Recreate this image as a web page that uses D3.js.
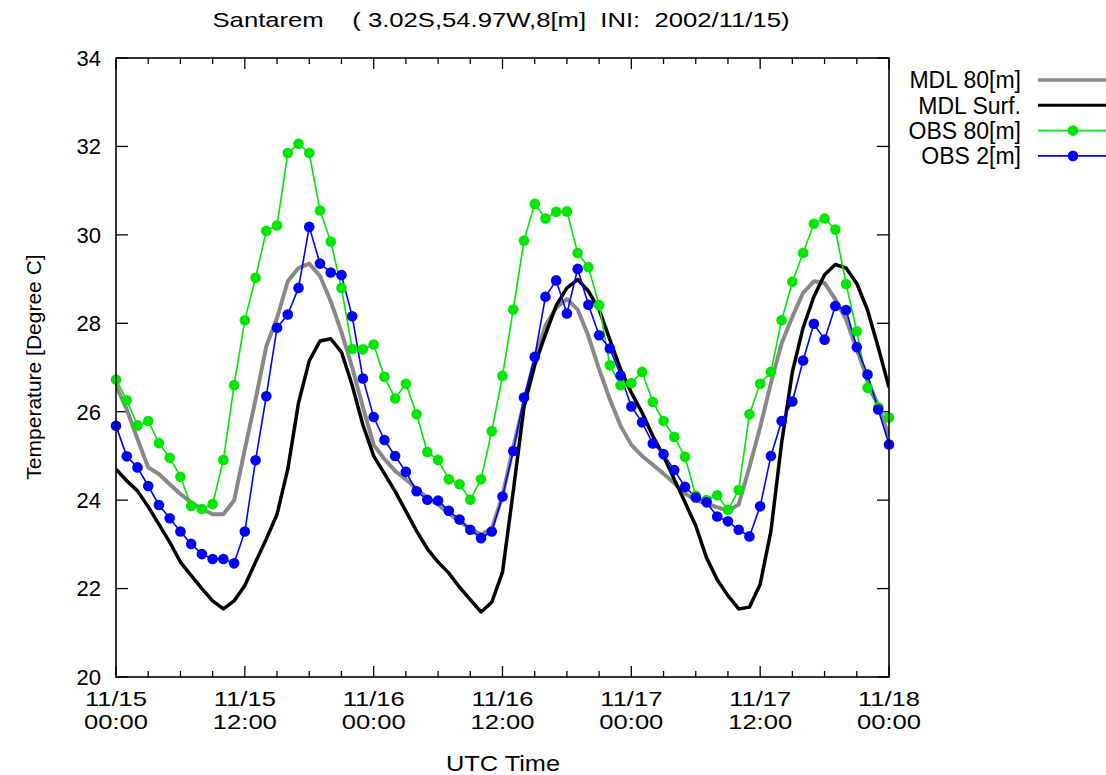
<!DOCTYPE html>
<html>
<head>
<meta charset="utf-8">
<script src="https://cdn.jsdelivr.net/npm/d3@7"></script>
<style>
  html, body { margin: 0; padding: 0; background: #fff; }
  svg text { font-family: 'Liberation Sans', Arial, sans-serif; fill: #000; }
</style>
</head>
<body>
<div id="chart"></div>
<script>
// hourly values, 2002/11/15 00Z .. 2002/11/18 00Z
const mdl80 = [26.6, 26.05, 25.38, 24.74, 24.59, 24.36, 24.14, 23.95, 23.8, 23.68, 23.68, 23.99, 25.15, 26.28, 27.48, 28.12, 28.95, 29.25, 29.35, 29.07, 28.5, 27.8, 27.0, 26.1, 25.25,
  24.93, 24.66, 24.47, 24.25, 24.05, 23.9, 23.7, 23.52, 23.35, 23.22, 23.35, 24.1, 25.2, 26.2, 27.2, 27.95, 28.35, 28.55, 28.31, 27.71, 26.96, 26.28, 25.68, 25.25,
  25.0, 24.8, 24.6, 24.38, 24.15, 24.0, 23.92, 23.84, 23.76, 23.9, 24.75, 25.65, 26.65, 27.55, 28.15, 28.69, 28.95, 28.91, 28.54, 28.09, 27.41, 26.73, 26.13, 25.45];

const mdlSurf = [24.7, 24.44, 24.21, 23.85, 23.45, 23.05, 22.6, 22.3, 22.0, 21.72, 21.54, 21.72, 22.07, 22.6, 23.12, 23.68, 24.7, 26.2, 27.15, 27.6, 27.65, 27.35, 26.6, 25.7, 25.0,
  24.6, 24.2, 23.75, 23.3, 22.9, 22.6, 22.35, 22.03, 21.75, 21.47, 21.69, 22.37, 24.2, 26.1, 27.05, 27.75, 28.4, 28.8, 28.99, 28.73, 28.31, 27.63, 26.96, 26.43,
  25.98, 25.45, 25.0, 24.47, 23.95, 23.42, 22.7, 22.2, 21.84, 21.54, 21.58, 22.1, 23.3, 25.3, 26.9, 27.9, 28.6, 29.1, 29.33, 29.25, 28.9, 28.3, 27.45, 26.55];

const obs80 = [26.73, 26.26, 25.69, 25.79, 25.29, 24.96, 24.53, 23.87, 23.8, 23.91, 24.91, 26.6, 28.07, 29.03, 30.09, 30.21, 31.85, 32.06, 31.85, 30.55, 29.85, 28.8, 27.42, 27.41, 27.52,
  26.79, 26.3, 26.63, 25.94, 25.09, 24.91, 24.47, 24.36, 24.01, 24.47, 25.56, 26.81, 28.31, 29.87, 30.7, 30.37, 30.52, 30.53, 29.59, 29.27, 28.41, 27.05, 26.6, 26.65,
  26.9, 26.22, 25.79, 25.43, 24.98, 24.1, 24.0, 24.11, 23.78, 24.23, 25.94, 26.63, 26.9, 28.07, 28.94, 29.59, 30.25, 30.37, 30.12, 28.89, 27.82, 26.54, 26.1, 25.87];

const obs2 = [25.68, 24.99, 24.74, 24.32, 23.89, 23.59, 23.29, 23.01, 22.78, 22.67, 22.67, 22.57, 23.29, 24.9, 26.35, 27.9, 28.2, 28.8, 30.18, 29.35, 29.15, 29.09, 28.16, 26.75, 25.88,
  25.36, 25.0, 24.64, 24.2, 24.01, 23.99, 23.76, 23.56, 23.33, 23.14, 23.29, 24.08, 25.11, 26.32, 27.24, 28.6, 28.97, 28.22, 29.23, 28.42, 27.73, 27.43, 26.82, 26.12,
  25.76, 25.28, 25.04, 24.68, 24.3, 24.06, 23.95, 23.63, 23.52, 23.33, 23.18, 23.86, 25.0, 25.79, 26.23, 27.16, 27.99, 27.63, 28.39, 28.3, 27.46, 26.84, 26.05, 25.26];

const yTicks = [20, 22, 24, 26, 28, 30, 32, 34];
const xTickLabels = [['11/15', '00:00'], ['11/15', '12:00'], ['11/16', '00:00'], ['11/16', '12:00'],
  ['11/17', '00:00'], ['11/17', '12:00'], ['11/18', '00:00']];

const series = [
  { name: 'MDL 80[m]', values: mdl80, color: '#888888', width: 4, dots: false },
  { name: 'MDL Surf.', values: mdlSurf, color: '#000000', width: 3.5, dots: false },
  { name: 'OBS 80[m]', values: obs80, color: '#00e600', width: 1.6, dots: true },
  { name: 'OBS 2[m]', values: obs2, color: '#0000ff', width: 1.6, dots: true }
];

const width = 1106, height = 775;
const margin = { top: 58, right: 217, bottom: 98, left: 116 };
const innerW = width - margin.left - margin.right;
const innerH = height - margin.top - margin.bottom;

const start = Date.UTC(2002, 10, 15, 0);
const hour = 3600 * 1000;
const timeOf = i => new Date(start + i * hour);

const x = d3.scaleUtc().domain([timeOf(0), timeOf(72)]).range([0, innerW]);
const y = d3.scaleLinear().domain([20, 34]).range([innerH, 0]);

const svg = d3.select('#chart').append('svg')
  .attr('width', width).attr('height', height);

const g = svg.append('g').attr('transform', `translate(${margin.left},${margin.top})`);

// title
svg.append('text')
  .attr('x', 501).attr('y', 27)
  .attr('text-anchor', 'middle')
  .attr('font-size', 21)
  .attr('textLength', 577).attr('lengthAdjust', 'spacingAndGlyphs')
  .attr('xml:space', 'preserve')
  .text('Santarem    ( 3.02S,54.97W,8[m]  INI:  2002/11/15)');

// ticks: minor every 3h, major every 12h, drawn inward on top & bottom
const minor = d3.utcHour.every(3).range(timeOf(0), timeOf(72.01));
const major = d3.utcHour.every(12).range(timeOf(0), timeOf(72.01));

const tickG = g.append('g').attr('stroke', '#000').attr('stroke-width', 1.3);
minor.forEach(t => {
  const big = t.getUTCHours() % 12 === 0;
  const len = big ? 11 : 6;
  tickG.append('line').attr('x1', x(t)).attr('x2', x(t)).attr('y1', innerH).attr('y2', innerH - len);
  tickG.append('line').attr('x1', x(t)).attr('x2', x(t)).attr('y1', 0).attr('y2', len);
});
yTicks.forEach(v => {
  tickG.append('line').attr('x1', 0).attr('x2', 12).attr('y1', y(v)).attr('y2', y(v));
  tickG.append('line').attr('x1', innerW).attr('x2', innerW - 12).attr('y1', y(v)).attr('y2', y(v));
});

// y tick labels
g.append('g').selectAll('text').data(yTicks).join('text')
  .attr('x', -15).attr('y', d => y(d)).attr('dy', '0.36em')
  .attr('text-anchor', 'end').attr('font-size', 22)
  .text(d => d);

// x tick labels (two lines)
const xl = g.append('g').selectAll('text').data(major).join('text')
  .attr('text-anchor', 'middle').attr('font-size', 21)
  .attr('transform', d => `translate(${x(d)},${innerH + 29})`);
xl.append('tspan').attr('x', 0).attr('y', 0)
  .attr('textLength', 62).attr('lengthAdjust', 'spacingAndGlyphs')
  .text((d, i) => xTickLabels[i][0]);
xl.append('tspan').attr('x', 0).attr('y', 23)
  .attr('textLength', 64).attr('lengthAdjust', 'spacingAndGlyphs')
  .text((d, i) => xTickLabels[i][1]);

// axis titles
svg.append('text')
  .attr('x', 503).attr('y', 771)
  .attr('text-anchor', 'middle').attr('font-size', 22)
  .attr('textLength', 114).attr('lengthAdjust', 'spacingAndGlyphs')
  .text('UTC Time');

svg.append('text')
  .attr('transform', 'translate(41,367) rotate(-90)')
  .attr('text-anchor', 'middle').attr('font-size', 21)
  .text('Temperature [Degree C]');

// lines
const line = d3.line().x((d, i) => x(timeOf(i))).y(d => y(d));

svg.append('clipPath').attr('id', 'plot-clip')
  .append('rect').attr('width', innerW).attr('height', innerH);

const plot = g.append('g').attr('clip-path', 'url(#plot-clip)');

series.forEach(s => {
  plot.append('path')
    .datum(s.values)
    .attr('fill', 'none')
    .attr('stroke', s.color)
    .attr('stroke-width', s.width)
    .attr('stroke-linejoin', 'round')
    .attr('d', line);

  if (s.dots) {
    g.append('g').selectAll('circle').data(s.values).join('circle')
      .attr('cx', (d, i) => x(timeOf(i)))
      .attr('cy', d => y(d))
      .attr('r', 5.3)
      .attr('fill', s.color);
  }
});

// frame
g.append('rect')
  .attr('width', innerW).attr('height', innerH)
  .attr('fill', 'none').attr('stroke', '#000').attr('stroke-width', 1.6);

// legend
const legend = svg.append('g');
series.forEach((s, i) => {
  const ly = 80 + i * 25.3;
  legend.append('text')
    .attr('x', 1021).attr('y', ly).attr('dy', '0.36em')
    .attr('text-anchor', 'end').attr('font-size', 23)
    .text(s.name);
  legend.append('line')
    .attr('x1', 1038).attr('x2', 1106).attr('y1', ly).attr('y2', ly)
    .attr('stroke', s.color).attr('stroke-width', s.dots ? 1.6 : s.width - 0.5);
  if (s.dots) {
    legend.append('circle').attr('cx', 1073).attr('cy', ly).attr('r', 5.3).attr('fill', s.color);
  }
});
</script>
</body>
</html>
